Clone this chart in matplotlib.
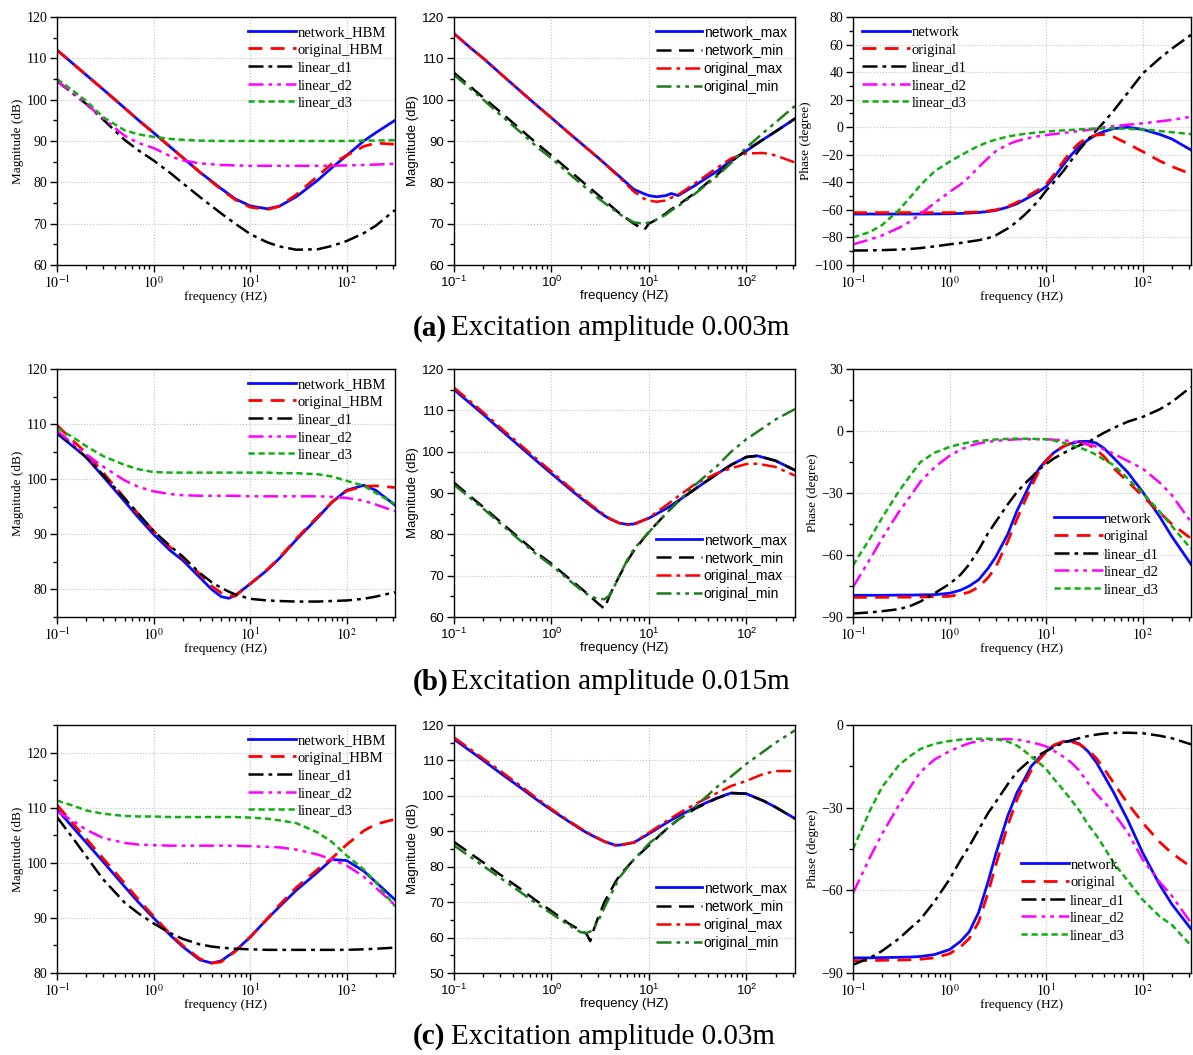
import matplotlib
matplotlib.use("Agg")
import matplotlib.pyplot as plt
from matplotlib.ticker import LogLocator, MultipleLocator, NullFormatter

plt.rcParams["mathtext.fontset"] = "custom"
plt.rcParams["mathtext.rm"] = "Liberation Sans"
plt.rcParams["mathtext.it"] = "Liberation Sans:italic"

SERIF = "Liberation Serif"
SANS = "Liberation Sans"

# ---- frequency grids (Hz) -------------------------------------------------
F = [0.1, 0.15, 0.2, 0.3, 0.5, 0.7, 1, 1.5, 2, 3, 5, 7, 10, 15, 20, 30, 50, 70, 100, 150, 200, 316]
F_A2 = [0.1, 0.15, 0.2, 0.3, 0.5, 0.7, 1, 1.5, 2, 3, 5, 7, 9, 10, 12, 15, 17, 20, 30, 50, 70, 100, 150, 200, 316]
F_B1 = [0.1, 0.15, 0.2, 0.3, 0.5, 0.7, 1, 1.5, 2, 3, 4, 5, 6, 7, 10, 15, 20, 30, 50, 70, 100, 150, 200, 316]
F_B2 = [0.1, 0.15, 0.2, 0.3, 0.5, 0.7, 1, 1.5, 2, 2.5, 3, 3.5, 4, 5, 6, 7, 10, 15, 20, 30, 50, 70, 100, 130, 200, 316]
F_C1 = [0.1, 0.15, 0.2, 0.3, 0.5, 0.7, 1, 1.5, 2, 3, 4, 5, 7, 10, 15, 20, 30, 50, 70, 100, 150, 200, 316]
F_C2 = [0.1, 0.15, 0.2, 0.3, 0.5, 0.7, 1, 1.5, 2, 2.3, 2.5, 2.7, 3, 3.5, 4.5, 5, 7, 10, 15, 20, 30, 50, 70, 100, 150, 200, 316]
F_PH = [0.1, 0.15, 0.2, 0.3, 0.4, 0.5, 0.7, 1, 1.3, 1.6, 2, 2.5, 3, 4, 5, 6, 7, 8.5, 10, 12, 15, 18, 22, 27, 33, 40,
        50, 70, 100, 150, 200, 316]

# ---- (a) amplitude 0.003 m ------------------------------------------------
A1_NET = [112, 108.5, 106, 102.5, 98, 95, 92, 88.5, 86, 82.5, 78.5, 76, 74.3, 73.6, 74.2, 76.5, 80.5, 83.5, 86.5, 90, 92, 95]
A1_ORIG = [112, 108.5, 106, 102.5, 98, 95, 92, 88.5, 86, 82.5, 78.3, 75.8, 74, 73.4, 74.2, 77, 81.5, 84.5, 86.5, 88.7, 89.5, 89.2]
A1_D1 = [104.5, 101.3, 99, 95.2, 90.3, 87.7, 85.3, 82.2, 79.8, 76.5, 72.5, 70, 67.5, 65.5, 64.5, 63.7, 63.8, 64.6, 65.8, 67.7, 69.5, 73.3]
A1_D2 = [104.5, 101.5, 99, 95.5, 91.3, 89.5, 88.3, 86.3, 85.3, 84.6, 84.2, 84.1, 84.0, 84.0, 84.0, 84.0, 84.0, 84.0, 84.1, 84.2, 84.3, 84.5]
A1_D3 = [105, 102, 99.7, 95.8, 92.6, 91.6, 91, 90.5, 90.3, 90.1, 90, 90, 90, 90, 90, 90, 90, 90, 90, 90.1, 90.1, 90.2]

A2_NET_MAX = [116, 112.4, 110, 106.3, 101.7, 98.7, 95.6, 92, 89.5, 86, 81.4, 78.3, 77.2, 76.8, 76.5, 76.8, 77.3, 76.8, 79.3, 82.7, 85.3, 87.6, 90.4, 92.3, 95.4]
A2_NET_MIN = [106.5, 103, 100.5, 97, 92.5, 89.5, 86.5, 83, 80.5, 77, 72.5, 70, 68.5, 70, 71, 72.5, 73.5, 74.5, 77.5, 81.8, 85, 87.8, 90.4, 92.3, 95.4]
A2_ORIG_MAX = [116, 112.4, 110, 106.3, 101.7, 98.7, 95.6, 92, 89.5, 86, 81.2, 77.8, 76, 75.6, 75.3, 75.6, 76.3, 77, 79.8, 83.5, 85.8, 87, 87.1, 86.5, 84.8]
A2_ORIG_MIN = [106, 102.5, 100, 96.3, 91.8, 88.7, 85.8, 82.2, 79.7, 76.2, 72.3, 70.3, 70, 70.3, 71, 72.2, 73.2, 74.2, 77.3, 81.5, 84.7, 88.4, 92, 94.5, 98.5]

A3_NET = [-63, -63, -63, -63, -63, -63, -62.9, -62.8, -62.6, -62.3, -61.9, -61.2, -60.4, -58, -55.5, -52.5, -50, -46.5,
          -43, -36.5, -27.5, -20.5, -14, -9.3, -5.5, -3, -1, 0, -1.6, -5.2, -8.5, -16.5]
A3_ORIG = [-62, -62, -62, -62, -62, -62, -62, -62, -62, -61.8, -61.5, -60.8, -60, -57.5, -54.5, -51.5, -48.5, -45,
           -41.5, -34.5, -25, -17.5, -11.5, -7.5, -5.7, -5.3, -7, -12, -17.7, -24.5, -28.5, -34]
A3_D1 = [-89.5, -89.4, -89.2, -88.8, -88.3, -87.7, -86.5, -85, -84, -83, -82, -80.5, -78.5, -73.5, -68.5, -63.5, -59,
         -52.5, -46, -40, -32, -24.5, -16.5, -9, -2.5, 4, 12, 25, 39, 50, 57, 67]
A3_D2 = [-85, -81.5, -78.5, -73, -68, -63, -55, -47, -41.5, -36, -29, -22.5, -17.5, -12.5, -10, -8.5, -7.5, -6.4,
         -5.7, -5, -4.2, -3.5, -2.8, -2, -1, 0, 0.8, 1.8, 2.8, 4.3, 5.3, 7.6]
A3_D3 = [-80, -76, -71, -60, -50, -42, -32, -25, -20.5, -17, -13.5, -10.8, -9, -6.8, -5.6, -4.8, -4.3, -3.7, -3.3,
         -2.8, -2.3, -2, -1.6, -1.2, -1, -0.8, -0.8, -1.2, -1.6, -2.8, -3.6, -5]

# ---- (b) amplitude 0.015 m ------------------------------------------------
B1_NET = [108.3, 105.8, 104, 100.5, 96, 93, 90, 87, 85.3, 82.2, 80, 78.7, 78.4, 78.9, 81, 83.5, 85.6, 89, 93, 95.8, 98, 98.9, 98, 95.3]
B1_ORIG = [109.8, 106.8, 104.8, 101.2, 96.6, 93.6, 90.6, 87.6, 85.8, 82.8, 80.6, 79.4, 78.9, 78.8, 81, 83.6, 85.7, 89.2, 93.2, 95.8, 97.9, 98.7, 98.8, 98.5]
B1_D1 = [108.5, 106, 104, 100.8, 96.5, 93.7, 90.6, 87.8, 86, 83, 81.3, 80.3, 79.6, 79.1, 78.3, 78, 77.9, 77.8, 77.8, 77.9, 78, 78.3, 78.7, 79.5]
B1_D2 = [108.8, 106.3, 104.5, 102.3, 99.8, 98.6, 97.8, 97.3, 97.1, 97, 97, 97, 97, 97, 96.9, 96.9, 96.9, 96.9, 96.9, 96.8, 96.6, 96.1, 95.4, 94.2]
B1_D3 = [109.3, 107.5, 106, 104.2, 102.6, 101.8, 101.3, 101.2, 101.2, 101.2, 101.2, 101.2, 101.2, 101.2, 101.2, 101.2, 101.1, 101.1, 100.9, 100.5, 99.7, 98.8, 97.5, 95.5]

B2_NET_MAX = [115, 111.5, 109, 105.3, 100.8, 97.8, 94.7, 91.2, 88.8, 87, 85.6, 84.5, 83.7, 82.7, 82.4, 82.5, 83.9, 86.2, 88.1, 91, 94.6, 96.8, 98.7, 99, 97.8, 95.5]
B2_NET_MIN = [92.5, 89, 86.6, 83, 78.5, 75.6, 72.9, 69.4, 67, 65, 63.3, 62, 65.5, 70, 73.5, 76, 80.6, 85, 88, 91, 94.6, 96.8, 98.7, 99, 97.8, 95.5]
B2_ORIG_MAX = [115.5, 112, 109.5, 105.8, 101.3, 98.3, 95.2, 91.6, 89.2, 87.3, 85.9, 84.7, 83.8, 82.7, 82.3, 82.3, 84, 87, 89.2, 92.2, 94.8, 96, 97, 97.1, 96.3, 94.2]
B2_ORIG_MIN = [92, 88.6, 86.2, 82.6, 78.1, 75.2, 72.5, 69, 66.6, 65, 64.4, 64.3, 65.3, 70, 73.8, 76.4, 80.5, 85, 88, 92, 96.5, 100, 103, 104.8, 107.8, 110.3]

B3_NET = [-79.5, -79.5, -79.5, -79.4, -79.4, -79.3, -79.2, -78.5, -77, -75, -72, -66.5, -61, -50, -38.5, -31, -24.5,
          -18, -14.2, -10.5, -7.5, -6, -5.1, -5, -5.8, -8.5, -13, -20, -29.5, -41.5, -51, -64.5]
B3_ORIG = [-80.5, -80.5, -80.5, -80.4, -80.4, -80.3, -80.2, -80, -79, -78, -75.5, -71, -66, -53.5, -42.5, -34, -27,
           -19, -14.5, -10.5, -7.5, -6, -5.5, -6.5, -9, -12.5, -18, -24.5, -31.5, -39.5, -45, -52]
B3_D1 = [-88.3, -87.8, -87.2, -86.2, -84.5, -82.5, -78.5, -74, -69.5, -64.5, -57.5, -49.5, -44, -35.5, -29.5, -25.5,
         -22.5, -18.5, -16, -13.3, -10.8, -8.8, -7, -5.5, -3, -0.8, 1.5, 4.5, 6.8, 10.5, 14, 21.3]
B3_D2 = [-75.5, -62, -52, -39, -31, -24.5, -17.5, -12, -9, -7.3, -6, -5.2, -4.8, -4.3, -4, -4, -4, -4, -4, -4.2,
         -4.5, -4.9, -5.5, -6.4, -7.5, -9, -11, -14.5, -18.2, -25, -31, -44]
B3_D3 = [-65, -52, -42, -29, -21, -15, -10.5, -7.7, -6.3, -5.5, -4.8, -4.4, -4.1, -3.8, -3.7, -3.7, -3.8, -3.9, -4,
         -4.6, -5.7, -6.7, -8, -9.5, -11.5, -14, -16.5, -23, -30, -39, -46, -57]

# ---- (c) amplitude 0.03 m -------------------------------------------------
C1_NET = [109.7, 106.2, 103.7, 100.2, 95.7, 92.8, 90, 86.8, 84.8, 82.4, 81.8, 82.2, 84, 86.5, 89.8, 92, 95, 98.3, 100.6, 100.4, 98.5, 96.5, 93.3]
C1_ORIG = [110.5, 106.9, 104.4, 100.8, 96.3, 93.3, 90.3, 87, 85, 82.6, 81.8, 82, 83.9, 86.5, 89.8, 92.3, 95.5, 98.8, 100.8, 103.3, 105.8, 107, 107.9]
C1_D1 = [108.3, 104.2, 101.2, 97, 92.8, 90.8, 89, 87.2, 86.2, 85.2, 84.8, 84.6, 84.4, 84.3, 84.2, 84.2, 84.2, 84.2, 84.2, 84.2, 84.3, 84.4, 84.6]
C1_D2 = [109.3, 107.5, 106, 104.5, 103.6, 103.3, 103.2, 103.1, 103.1, 103.1, 103.1, 103.1, 103.1, 103, 102.9, 102.8, 102.4, 101.5, 100.6, 99.5, 97.5, 95.5, 92.3]
C1_D3 = [111.3, 110.3, 109.5, 108.9, 108.5, 108.4, 108.4, 108.3, 108.3, 108.3, 108.3, 108.3, 108.3, 108.2, 108, 107.7, 107.2, 105.5, 103.8, 101.3, 98.8, 96.5, 92.1]

C2_NET_MAX = [116, 112.5, 110, 106.4, 102, 99, 96, 92.8, 90.6, 89.6, 89.1, 88.6, 88, 87.1, 86.1, 86.1, 86.8, 89.3, 92.3, 94.3, 96.7, 99.4, 100.8, 100.6, 98.6, 96.8, 93.6]
C2_NET_MIN = [87, 83.6, 81.2, 77.7, 73.4, 70.4, 67.5, 64, 62, 61, 59, 62, 65.5, 70, 75.5, 77.5, 82, 86, 90.5, 93.3, 96.4, 99.3, 100.8, 100.6, 98.6, 96.8, 93.6]
C2_ORIG_MAX = [116.5, 113, 110.5, 107, 102.5, 99.4, 96.3, 93, 90.8, 89.8, 89.2, 88.7, 88.1, 87.1, 86, 86, 86.9, 89.6, 92.8, 95, 97.7, 100.8, 102.8, 104.2, 106.2, 107, 107]
C2_ORIG_MIN = [86, 82.6, 80.2, 76.8, 72.5, 69.6, 66.8, 63.5, 61.5, 61.3, 61.7, 62.5, 64.5, 68.5, 74.5, 77, 82, 86.5, 90.5, 93.3, 97, 102.5, 105.5, 109, 112.5, 115, 118.5]

C3_NET = [-84.5, -84.5, -84.4, -84.3, -84.2, -84, -83.3, -81.5, -78.5, -75, -68, -57, -47, -33, -24.5, -19.5, -15,
          -11.8, -9.5, -7.5, -6.1, -5.8, -6.8, -9.5, -13.5, -18.5, -24.5, -34.5, -46.4, -58, -65, -74]
C3_ORIG = [-85.5, -85.5, -85.4, -85.3, -85.2, -85, -84.5, -83, -80.5, -77.5, -71.5, -61, -51, -36.5, -27, -21, -16.5,
           -12.5, -9.8, -7.3, -6, -6, -7, -9, -12, -16, -21, -28.5, -35.5, -42.5, -46.5, -51.5]
C3_D1 = [-87, -84.5, -82, -77.5, -73.5, -70.5, -64, -56, -49, -44, -38, -32, -28, -21.5, -17, -14.5, -12.5, -10.8,
         -9.5, -8, -6.5, -5.6, -4.8, -4, -3.5, -3.1, -2.9, -2.8, -3, -3.9, -4.8, -7]
C3_D2 = [-61, -48, -39.5, -29, -22, -17, -12.5, -9.5, -7.8, -6.6, -5.8, -5.4, -5.2, -5.1, -5.3, -5.8, -6.3, -7, -7.8,
         -9.3, -11.5, -13.5, -16.5, -21, -25, -28, -32, -39, -48.8, -57, -62, -71.8]
C3_D3 = [-45, -31, -22.5, -14.5, -11, -8.7, -6.8, -5.8, -5.3, -5.1, -5, -5, -5.1, -6, -7.5, -9.5, -11.5, -13.8, -16,
         -19.5, -23.5, -27, -31, -36, -40, -44.5, -50, -56.5, -63.4, -69.5, -72.5, -80]

HBM_LABELS = ["network_HBM", "original_HBM", "linear_d1", "linear_d2", "linear_d3"]
ENV_LABELS = ["network_max", "network_min", "original_max", "original_min"]
PHASE_LABELS = ["network", "original", "linear_d1", "linear_d2", "linear_d3"]
CAPTIONS = [("(a)", "Excitation amplitude 0.003m"),
            ("(b)", "Excitation amplitude 0.015m"),
            ("(c)", "Excitation amplitude 0.03m")]

# line styles: solid network, long-dash original, dash-dot / dash-dot-dot / short dash for linear fits
STY_HBM = [
    dict(color="#0a0aff", ls="-", lw=2.0),
    dict(color="#ff0000", ls=(0, (5, 3)), lw=2.0),
    dict(color="black", ls=(0, (6, 2, 1.5, 2)), lw=1.8),
    dict(color="#ff00ff", ls=(0, (6, 2, 1.5, 2, 1.5, 2)), lw=1.8),
    dict(color="#10b010", ls=(0, (2.5, 1.5)), lw=1.8),
]
STY_ENV = [
    dict(color="#0a0aff", ls="-", lw=2.0),
    dict(color="black", ls=(0, (6, 3)), lw=1.8),
    dict(color="#ff0000", ls=(0, (6, 2, 1.5, 2)), lw=1.8),
    dict(color="#1d7d1d", ls=(0, (6, 2, 1.5, 2, 1.5, 2)), lw=1.8),
]

W, H = 1193, 1055
ROW_TOP = [17, 369, 725]
COL_LR = [(57, 395), (454, 795), (853, 1191)]
AX_H = 248


def ax_rect(row, col):
    left, right = COL_LR[col]
    top = ROW_TOP[row]
    return [left / W, 1 - (top + AX_H) / H, (right - left) / W, AX_H / H]


def style_axes(ax, family, ylim, ystep, ylabel):
    serif = family == SERIF
    tick_size = 10 if serif else 9.5
    ax.set_xscale("log")
    ax.set_xlim(0.1, 10 ** 2.5)
    ax.set_ylim(*ylim)
    ax.set_xticks([0.1, 1, 10, 100], ["$10^{-1}$", "$10^{0}$", "$10^{1}$", "$10^{2}$"],
                  math_fontfamily="stix" if serif else "custom", fontsize=tick_size + 1)
    ax.xaxis.set_minor_locator(LogLocator(base=10, subs=range(2, 10)))
    ax.xaxis.set_minor_formatter(NullFormatter())
    ax.yaxis.set_major_locator(MultipleLocator(ystep))
    ax.yaxis.set_minor_locator(MultipleLocator(ystep / 2))
    ax.tick_params(which="both", direction="out", top=False, right=False, width=1)
    ax.tick_params(which="major", length=5, labelsize=tick_size, labelfontfamily=family, pad=2)
    ax.tick_params(which="minor", length=3)
    ax.grid(True, which="major", ls=":", color="#c4c4c4", lw=0.8)
    for sp in ax.spines.values():
        sp.set_linewidth(1.0)
    lab = 9.5
    ax.set_xlabel("frequency (HZ)", family=family, fontsize=lab, labelpad=0)
    ax.set_ylabel(ylabel, family=family, fontsize=lab, labelpad=2)


def draw(ax, freq, curves, labels, styles, family, legend_kw):
    for ys, lbl, st in zip(curves, labels, styles):
        ax.plot(freq, ys, label=lbl, **st)
    ax.legend(frameon=False, prop={"family": family, "size": 10.5 if family == SERIF else 10},
              handlelength=3.3, handletextpad=0.1, labelspacing=0.3, borderaxespad=0.2,
              **legend_kw)


fig = plt.figure(figsize=(W / 100, H / 100), dpi=100)

# row (a)
ax = fig.add_axes(ax_rect(0, 0))
draw(ax, F, [A1_NET, A1_ORIG, A1_D1, A1_D2, A1_D3], HBM_LABELS, STY_HBM, SERIF, dict(loc="upper right"))
style_axes(ax, SERIF, (60, 120), 10, "Magnitude (dB)")

ax = fig.add_axes(ax_rect(0, 1))
draw(ax, F_A2, [A2_NET_MAX, A2_NET_MIN, A2_ORIG_MAX, A2_ORIG_MIN], ENV_LABELS, STY_ENV, SANS, dict(loc="upper right"))
style_axes(ax, SANS, (60, 120), 10, "Magnitude (dB)")

ax = fig.add_axes(ax_rect(0, 2))
draw(ax, F_PH, [A3_NET, A3_ORIG, A3_D1, A3_D2, A3_D3], PHASE_LABELS, STY_HBM, SERIF, dict(loc="upper left"))
style_axes(ax, SERIF, (-100, 80), 20, "Phase (degree)")

# row (b)
ax = fig.add_axes(ax_rect(1, 0))
draw(ax, F_B1, [B1_NET, B1_ORIG, B1_D1, B1_D2, B1_D3], HBM_LABELS, STY_HBM, SERIF, dict(loc="upper right"))
style_axes(ax, SERIF, (75, 120), 10, "Magnitude (dB)")

ax = fig.add_axes(ax_rect(1, 1))
draw(ax, F_B2, [B2_NET_MAX, B2_NET_MIN, B2_ORIG_MAX, B2_ORIG_MIN], ENV_LABELS, STY_ENV, SANS,
     dict(loc="lower right", bbox_to_anchor=(1.0, 0.03)))
style_axes(ax, SANS, (60, 120), 10, "Magnitude (dB)")

ax = fig.add_axes(ax_rect(1, 2))
draw(ax, F_PH, [B3_NET, B3_ORIG, B3_D1, B3_D2, B3_D3], PHASE_LABELS, STY_HBM, SERIF,
     dict(loc="lower left", bbox_to_anchor=(0.57, 0.05)))
style_axes(ax, SERIF, (-90, 30), 30, "Phase (degree)")

# row (c)
ax = fig.add_axes(ax_rect(2, 0))
draw(ax, F_C1, [C1_NET, C1_ORIG, C1_D1, C1_D2, C1_D3], HBM_LABELS, STY_HBM, SERIF, dict(loc="upper right"))
style_axes(ax, SERIF, (80, 125), 10, "Magnitude (dB)")

ax = fig.add_axes(ax_rect(2, 1))
draw(ax, F_C2, [C2_NET_MAX, C2_NET_MIN, C2_ORIG_MAX, C2_ORIG_MIN], ENV_LABELS, STY_ENV, SANS,
     dict(loc="lower right", bbox_to_anchor=(1.0, 0.06)))
style_axes(ax, SANS, (50, 120), 10, "Magnitude (dB)")

ax = fig.add_axes(ax_rect(2, 2))
draw(ax, F_PH, [C3_NET, C3_ORIG, C3_D1, C3_D2, C3_D3], PHASE_LABELS, STY_HBM, SERIF,
     dict(loc="lower left", bbox_to_anchor=(0.47, 0.09)))
style_axes(ax, SERIF, (-90, 0), 30, "Phase (degree)")

# panel captions under each row
for (tag, text), yc in zip(CAPTIONS, [328, 682, 1037]):
    fig.text(413 / W, 1 - yc / H, tag, family=SERIF, fontweight="bold", fontsize=21, va="center")
    fig.text(451 / W, 1 - yc / H, text, family=SERIF, fontsize=21, va="center")

fig.savefig("out.png", dpi=100)
